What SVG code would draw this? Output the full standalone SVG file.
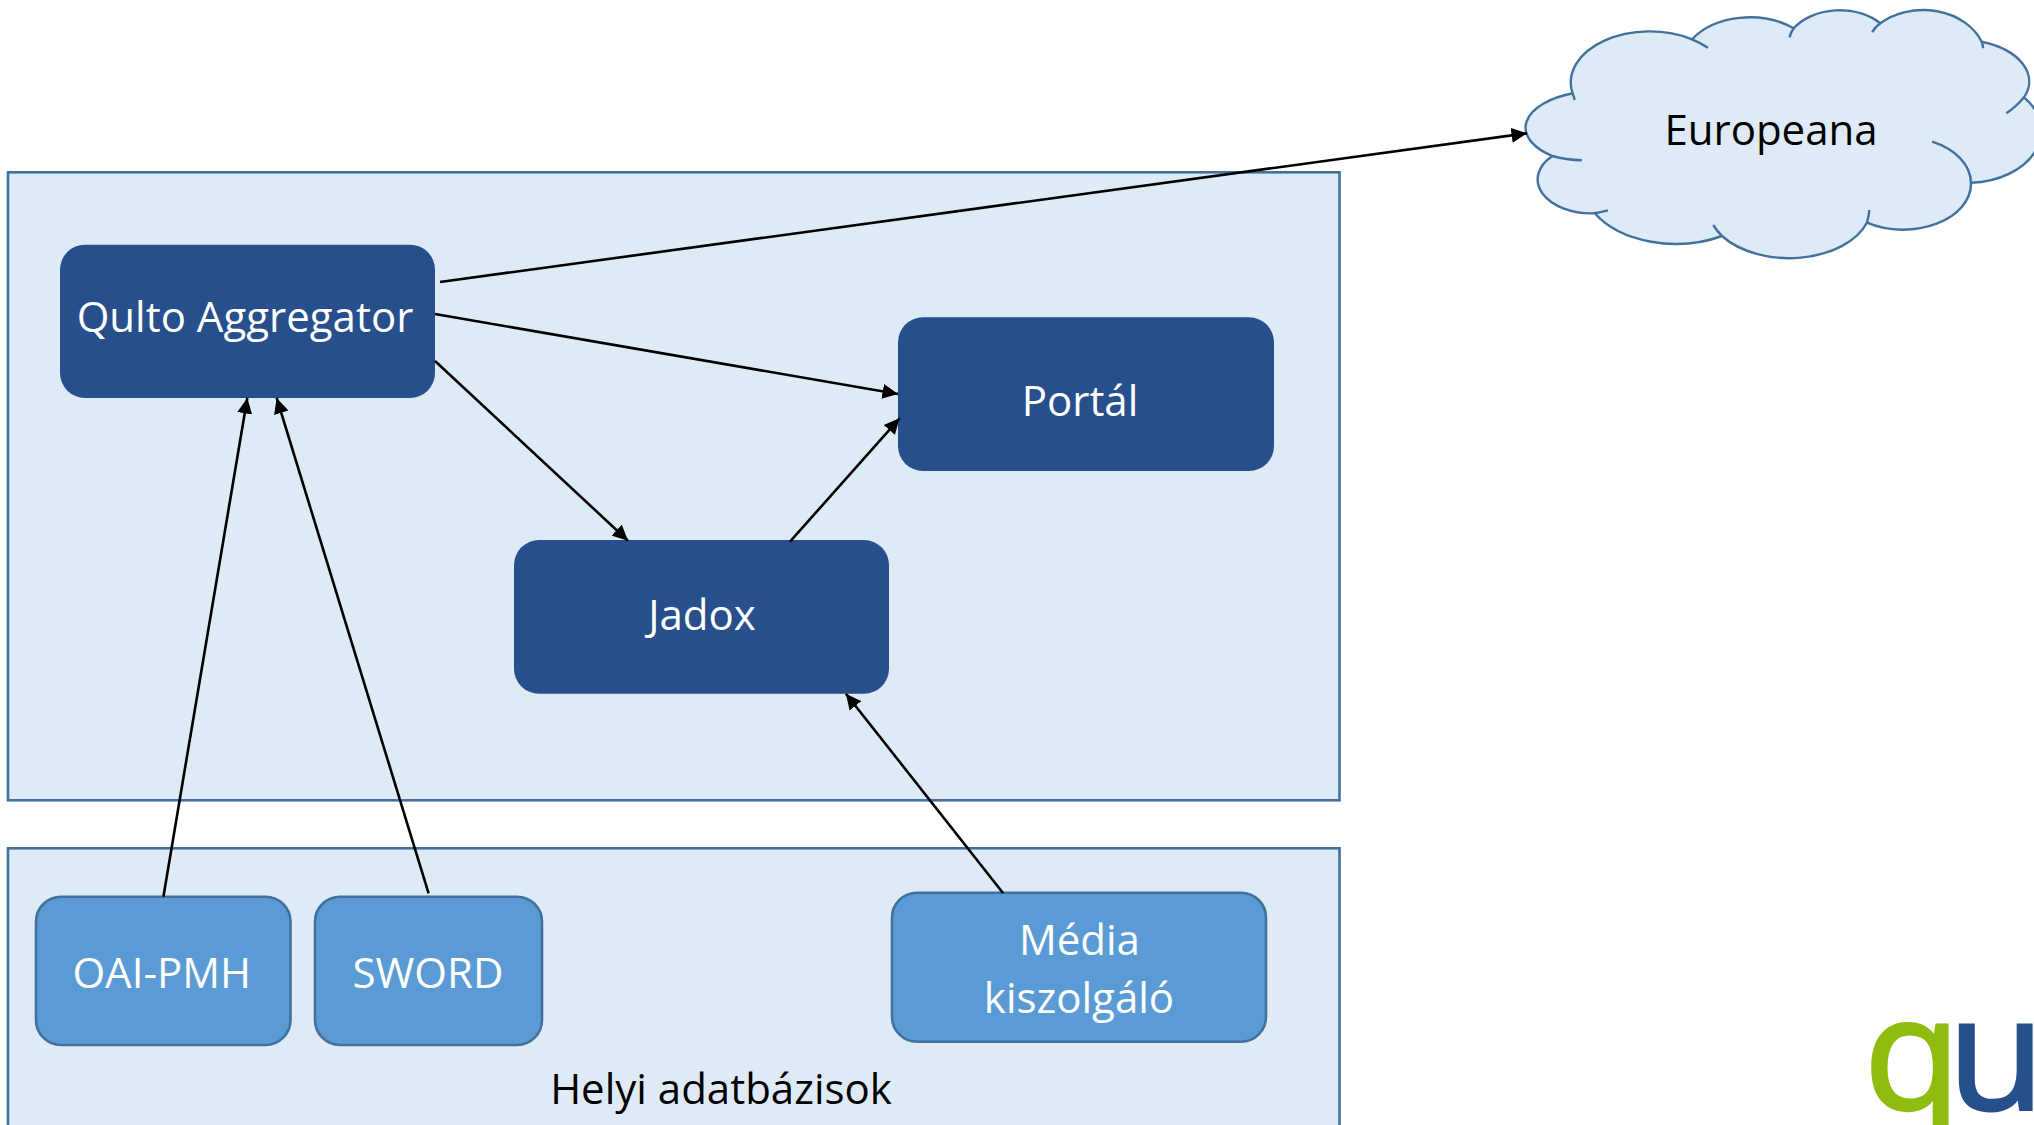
<svg xmlns="http://www.w3.org/2000/svg" width="2034" height="1125" viewBox="0 0 2034 1125">
<defs>
<style>
.panel{fill:#DEEAF6;stroke:#41719C;stroke-width:2.6}
.dark{fill:#264F8B}
.mid{fill:#5B9BD5;stroke:#41719C;stroke-width:2.6}
text{font-family:"Open Sans","Liberation Sans",sans-serif;font-size:42px;text-anchor:middle}
.w{fill:#fff}
.k{fill:#000}
.conn{stroke:#000;stroke-width:2.6;fill:none;marker-end:url(#arrow)}
.cl{fill:none;stroke:#41719C;stroke-width:2.4}
</style>
<marker id="arrow" markerUnits="userSpaceOnUse" markerWidth="16" markerHeight="16" refX="15.5" refY="8" orient="auto">
<path d="M0 0.5L15.5 8L0 15.5Z" fill="#000"/>
</marker>
</defs>
<rect width="2034" height="1125" fill="#fff"/>
<g id="panel-top"><rect class="panel" x="8" y="172.3" width="1331.5" height="628"/></g>
<g id="panel-bottom"><rect class="panel" x="8" y="848.3" width="1331.5" height="290"/><text class="k" x="721" y="1103.5">Helyi adatbázisok</text></g>
<g id="europeana">
<path d="M1572.6 93.3A79 51 0 0 1 1692 39.3A70 50 0 0 1 1793.7 28.3A55 40 0 0 1 1880.3 23.3A63 50 0 0 1 1981.7 41.7A70 42 0 0 1 2024 97.3A74 52 0 0 1 1971 182.7A68 46 0 0 1 1866.9 222.7A82 52 0 0 1 1722 236A93 60 0 0 1 1594.8 213.3A54 34 0 0 1 1552.4 156A75 37 0 0 1 1572.6 93.3Z" fill="#DEEAF6" stroke="#41719C" stroke-width="2.4"/>
<path class="cl" d="M1692 39.3Q1701 43 1707.9 47.7M1793.7 28.3Q1791 32 1789.5 37.3M1880.3 23.3Q1875 27 1872.2 32.3M1981.7 41.7Q1983 45 1983.1 48.3M2024 97.3Q2017 106 2006.4 113.3M1932.2 141.7A68 46 0 0 1 1971 182.7M1866.9 222.7Q1869 216 1869.3 210M1722 236Q1717 231 1713.2 225M1594.8 213.3Q1602 212 1607.9 210.3M1552.4 156Q1566 160 1581.8 160.3M1572.6 93.3Q1574 97 1574.7 100"/>
<text class="k" x="1771" y="145">Europeana</text>
</g>
<g id="qulto-aggregator"><rect class="dark" x="60" y="244.7" width="375" height="153.3" rx="25"/><text class="w" x="245" y="331.5">Qulto Aggregator</text></g>
<g id="portal"><rect class="dark" x="898" y="317.3" width="376" height="153.7" rx="25"/><text class="w" x="1080" y="415.5">Portál</text></g>
<g id="jadox"><rect class="dark" x="514" y="540" width="375" height="153.7" rx="25"/><text class="w" x="702" y="629.5">Jadox</text></g>
<g id="oai-pmh"><rect class="mid" x="36" y="896.7" width="254.5" height="148.3" rx="25"/><text class="w" x="161.7" y="988">OAI-PMH</text></g>
<g id="sword"><rect class="mid" x="315" y="896.7" width="227" height="148.3" rx="25"/><text class="w" x="428" y="988">SWORD</text></g>
<g id="media"><rect class="mid" x="892" y="892.7" width="374" height="149" rx="25"/><text class="w" x="1079.4" y="955">Média</text><text class="w" x="1079" y="1013">kiszolgáló</text></g>
<g id="connectors">
<line class="conn" x1="440" y1="282" x2="1527" y2="133.3"/>
<line class="conn" x1="435" y1="314" x2="898" y2="394"/>
<line class="conn" x1="435" y1="361" x2="628" y2="540.7"/>
<line class="conn" x1="790" y1="541.7" x2="899.6" y2="418.3"/>
<line class="conn" x1="163.4" y1="896.7" x2="247.3" y2="398"/>
<line class="conn" x1="428.6" y1="893.3" x2="276.7" y2="398"/>
<line class="conn" x1="1003.2" y1="893.3" x2="845.9" y2="693.7"/>
</g>
<g id="logo">
<text x="1864" y="1108.5" style="font-size:158px;text-anchor:start;stroke-width:3"><tspan fill="#8FBC0F" stroke="#8FBC0F" letter-spacing="-13">q</tspan><tspan fill="#26508C" stroke="#26508C">u</tspan></text>
</g>
</svg>
